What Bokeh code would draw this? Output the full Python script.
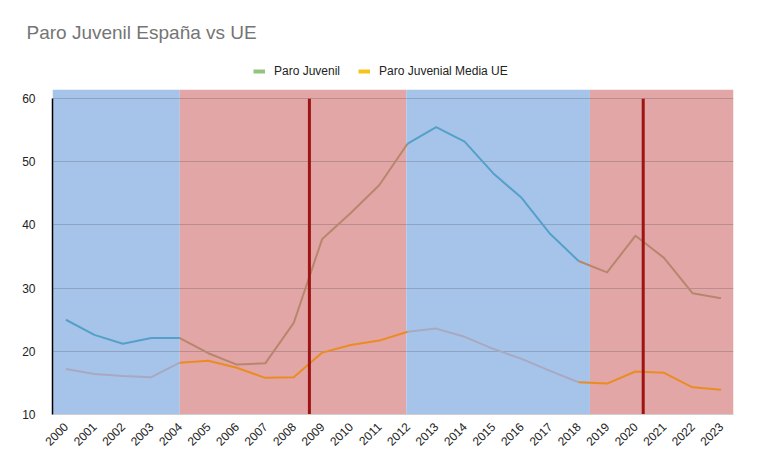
import math
from bokeh.plotting import figure
from bokeh.models import FixedTicker, Legend, LegendItem, Range1d
from bokeh.embed import file_html
from bokeh.resources import INLINE

# ---- data ----
years = list(range(2000, 2024))
paro_juvenil = [25.0, 22.6, 21.2, 22.1, 22.1, 19.7, 17.9, 18.1, 24.5, 37.8, 41.9, 46.3,
                52.9, 55.5, 53.2, 48.2, 44.3, 38.6, 34.3, 32.5, 38.3, 34.8, 29.2, 28.4]
paro_ue = [17.2, 16.4, 16.1, 15.9, 18.2, 18.5, 17.4, 15.8, 15.9, 19.8, 21.0, 21.7,
           23.1, 23.6, 22.3, 20.4, 18.8, 16.9, 15.1, 14.9, 16.8, 16.6, 14.3, 13.9]
y_ticks = [10, 20, 30, 40, 50, 60]
x_labels = [str(y) for y in years]

# shaded periods
period_start = [1999.53, 2004, 2011.95, 2018.4]
period_end = [2004, 2011.95, 2018.4, 2023.44]
period_kind = ["azul", "rojo", "azul", "rojo"]
# vertical event markers (2008 crisis, 2020 pandemic)
event_years = [2008.55, 2020.27]

# ---- styles ----
FONT = "Liberation Sans"
band_color = {"azul": "#a6c4ea", "rojo": "#e2a6a6"}
es_color = {"azul": "#55a0c8", "rojo": "#b6876d"}
ue_color = {"azul": "#a8a9c0", "rojo": "#ea8c22"}
legend_es = "#93c47d"
legend_ue = "#f6c318"
BAND_TOP = 61.43     # shading reaches a little above the last tick
FRAME_TOP = 68.1     # extra room inside the frame for the legend

p = figure(width=752, height=462, output_backend="svg", toolbar_location=None,
           x_range=Range1d(period_start[0], period_end[-1]),
           y_range=Range1d(y_ticks[0], FRAME_TOP),
           min_border_left=52, min_border_right=19, min_border_top=47,
           min_border_bottom=48)
p.outline_line_color = None
p.background_fill_color = "white"

# bands
p.quad(left=period_start, right=period_end, bottom=y_ticks[0], top=BAND_TOP,
       color=[band_color[k] for k in period_kind], line_color=None)

# horizontal gridlines drawn over the bands
p.hspan(y=y_ticks[1:], line_color="#333333", line_alpha=0.22, line_width=1)

# group consecutive segments by band
def kind_at(xm):
    for s, e, k in zip(period_start, period_end, period_kind):
        if s <= xm < e:
            return k
    return period_kind[-1]

seg_kind = [kind_at((years[i] + years[i + 1]) / 2) for i in range(len(years) - 1)]
groups = []
start = 0
for i in range(1, len(seg_kind) + 1):
    if i == len(seg_kind) or seg_kind[i] != seg_kind[start]:
        groups.append((start, i, seg_kind[start]))
        start = i

for series, cmap in ((paro_ue, ue_color), (paro_juvenil, es_color)):
    xs = [years[a:b + 1] for a, b, k in groups]
    ys = [series[a:b + 1] for a, b, k in groups]
    cols = [cmap[k] for a, b, k in groups]
    p.multi_line(xs=xs, ys=ys, line_color=cols, line_width=2, line_join="round")

# event markers
p.segment(x0=event_years, x1=event_years, y0=y_ticks[0], y1=y_ticks[-1],
          line_color="#9e1313", line_width=3)

# legend dummies (outside the visible range)
r_es = p.line(x=[years[0]], y=[-100], line_color=legend_es, line_width=4)
r_ue = p.line(x=[years[0]], y=[-100], line_color=legend_ue, line_width=4)
legend = Legend(items=[LegendItem(label="Paro Juvenil", renderers=[r_es]),
                       LegendItem(label="Paro Juvenial Media UE", renderers=[r_ue])],
                orientation="horizontal", location=(201, 333),
                label_text_font=FONT, label_text_font_size="12px",
                label_text_color="#222222", glyph_width=12, glyph_height=12,
                label_height=20, label_standoff=9, spacing=18, padding=4, margin=0,
                border_line_color=None, background_fill_alpha=0)
p.add_layout(legend, "center")

# title
p.title.text = "Paro Juvenil España vs UE"
p.title.text_font = FONT
p.title.text_font_size = "19px"
p.title.text_font_style = "normal"
p.title.text_color = "#757575"
p.title.align = "left"
p.title.offset = -26

# axes
p.xaxis.ticker = FixedTicker(ticks=years)
p.xaxis.major_label_overrides = {y: l for y, l in zip(years, x_labels)}
p.xaxis.major_label_orientation = math.pi / 4
p.xaxis.major_label_text_font = FONT
p.xaxis.major_label_text_font_size = "12px"
p.xaxis.major_label_text_color = "#222222"
p.xaxis.axis_line_color = "#cfcfcf"
p.xaxis.major_tick_line_color = None
p.xaxis.minor_tick_line_color = None
p.xaxis.major_label_standoff = 4

p.yaxis.ticker = FixedTicker(ticks=y_ticks)
p.yaxis.bounds = (y_ticks[0], y_ticks[-1])
p.yaxis.major_label_text_font = FONT
p.yaxis.major_label_text_font_size = "12px"
p.yaxis.major_label_text_color = "#222222"
p.yaxis.axis_line_color = "black"
p.yaxis.axis_line_width = 1.5
p.yaxis.major_tick_line_color = None
p.yaxis.minor_tick_line_color = None
p.yaxis.major_label_standoff = 11

p.xgrid.grid_line_color = None
p.ygrid.grid_line_color = None

open("out.html", "w").write(file_html(p, INLINE))
